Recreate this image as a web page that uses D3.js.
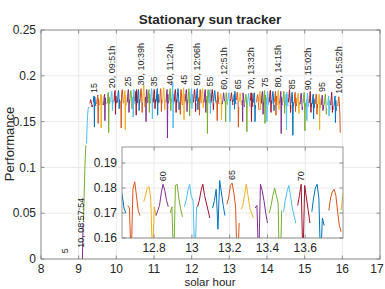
<!DOCTYPE html>
<html>
<head>
<meta charset="utf-8">
<script src="https://cdn.jsdelivr.net/npm/d3@7"></script>
<style>
  body { margin: 0; background: #fff; }
  text { font-family: "Liberation Sans", Arial, sans-serif; fill: #262626; }
</style>
</head>
<body>
<svg id="chart" width="385" height="289"></svg>
<script>
// ---- data ----
var firstSeg = 11;          // number of the first drawn tracking run
var sampleStep = 0.0093;    // hours between samples inside one run

// start hour of runs 11 .. 100
var segStart = [
  9.09, 9.127, 9.21, 9.30, 9.39, 9.48, 9.57, 9.66, 9.76, 9.85,
  9.94, 10.03, 10.12, 10.20, 10.29, 10.36, 10.43, 10.50, 10.56, 10.63,
  10.70, 10.77, 10.84, 10.91, 10.98, 11.06, 11.15, 11.23, 11.32, 11.40,
  11.47, 11.54, 11.61, 11.69, 11.76, 11.83, 11.90, 11.97, 12.05, 12.12,
  12.19, 12.26, 12.33, 12.40, 12.46, 12.52, 12.585, 12.66, 12.745, 12.81,
  12.885, 12.96, 13.03, 13.11, 13.185, 13.26, 13.335, 13.41, 13.485, 13.56,
  13.635, 13.725, 13.79, 13.85, 13.91, 13.98, 14.06, 14.13, 14.20, 14.27,
  14.34, 14.42, 14.49, 14.57, 14.64, 14.72, 14.80, 14.88, 14.96, 15.04,
  15.12, 15.20, 15.28, 15.36, 15.44, 15.52, 15.61, 15.69, 15.78, 15.88
];

// performance samples of runs 11 .. 100
var segPerf = [
  [0, 0, 0.020, 0.039],
  [0.041, 0.055, 0.070, 0.085, 0.098, 0.110, 0.118, 0.124],
  [0.126, 0.140, 0.150, 0.157, 0.162, 0.165, 0.166, 0.165],
  [0.170, 0.172, 0.174, 0.173, 0.171, 0.169, 0.166, 0.168],
  [0.171, 0.176, 0.178, 0.144, 0.177, 0.173, 0.169, 0.167],
  [0.169, 0.174, 0.177, 0.179, 0.148, 0.175, 0.171, 0.168],
  [0.170, 0.176, 0.180, 0.143, 0.179, 0.174, 0.170, 0.168],
  [0.168, 0.173, 0.178, 0.180, 0.151, 0.176, 0.171, 0.169],
  [0.170, 0.175, 0.181, 0.182, 0.138, 0.177, 0.172, 0.169],
  [0.171, 0.177, 0.182, 0.183, 0.179, 0.162, 0.173, 0.170],
  [0.172, 0.178, 0.183, 0.184, 0.158, 0.178, 0.173, 0.170],
  [0.171, 0.177, 0.182, 0.184, 0.180, 0.164, 0.174, 0.171],
  [0.172, 0.143, 0.179, 0.184, 0.185, 0.180, 0.174, 0.170],
  [0.170, 0.176, 0.182, 0.184, 0.141, 0.179, 0.174, 0.168],
  [0.171, 0.177, 0.182, 0.185, 0.181, 0.160, 0.174, 0.170],
  [0.172, 0.178, 0.183, 0.184, 0.180, 0.175, 0.164, 0.171],
  [0.171, 0.177, 0.155, 0.182, 0.185, 0.179, 0.174, 0.169],
  [0.172, 0.178, 0.183, 0.157, 0.185, 0.180, 0.174, 0.170],
  [0.171, 0.177, 0.182, 0.185, 0.180, 0.162, 0.174, 0.170],
  [0.172, 0.178, 0.184, 0.186, 0.181, 0.175, 0.160, 0.171],
  [0.171, 0.178, 0.183, 0.190, 0.182, 0.166, 0.175, 0.171],
  [0.172, 0.177, 0.150, 0.183, 0.185, 0.180, 0.174, 0.170],
  [0.171, 0.178, 0.183, 0.185, 0.160, 0.180, 0.174, 0.170],
  [0.172, 0.178, 0.184, 0.186, 0.181, 0.153, 0.175, 0.171],
  [0.171, 0.177, 0.183, 0.185, 0.180, 0.164, 0.174, 0.170],
  [0.172, 0.178, 0.184, 0.186, 0.157, 0.180, 0.175, 0.170],
  [0.171, 0.178, 0.183, 0.186, 0.181, 0.161, 0.174, 0.170],
  [0.172, 0.178, 0.184, 0.187, 0.182, 0.176, 0.163, 0.171],
  [0.171, 0.177, 0.183, 0.185, 0.132, 0.180, 0.174, 0.170],
  [0.172, 0.178, 0.184, 0.186, 0.181, 0.162, 0.175, 0.171],
  [0.171, 0.178, 0.186, 0.192, 0.143, 0.180, 0.174, 0.170],
  [0.172, 0.178, 0.183, 0.185, 0.180, 0.160, 0.174, 0.170],
  [0.171, 0.177, 0.183, 0.186, 0.181, 0.175, 0.163, 0.171],
  [0.172, 0.158, 0.183, 0.185, 0.181, 0.175, 0.170, 0.168],
  [0.171, 0.178, 0.184, 0.187, 0.152, 0.180, 0.174, 0.170],
  [0.172, 0.178, 0.183, 0.185, 0.181, 0.161, 0.174, 0.170],
  [0.171, 0.177, 0.183, 0.186, 0.180, 0.156, 0.174, 0.170],
  [0.172, 0.178, 0.184, 0.186, 0.164, 0.180, 0.175, 0.171],
  [0.171, 0.178, 0.183, 0.185, 0.180, 0.175, 0.161, 0.170],
  [0.172, 0.178, 0.184, 0.186, 0.181, 0.163, 0.175, 0.171],
  [0.171, 0.177, 0.157, 0.183, 0.185, 0.180, 0.174, 0.170],
  [0.172, 0.178, 0.184, 0.186, 0.180, 0.165, 0.174, 0.170],
  [0.171, 0.177, 0.183, 0.185, 0.181, 0.160, 0.174, 0.171],
  [0.172, 0.178, 0.137, 0.183, 0.185, 0.180, 0.174, 0.170],
  [0.171, 0.177, 0.183, 0.185, 0.159, 0.180, 0.174, 0.170],
  [0.172, 0.178, 0.183, 0.185, 0.180, 0.175, 0.163, 0.170],
  [0.172, 0.177, 0.182, 0.184, 0.180, 0.177, 0.172, 0.170],
  [0.173, 0.172, 0.151, 0.1795, 0.1825, 0.177, 0.171, 0.169],
  [0.1745, 0.177, 0.180, 0.1805, 0.176, 0.152, 0.1725, 0.169],
  [0.169, 0.171, 0.173, 0.178, 0.1815, 0.179, 0.175, 0.1725],
  [0.170, 0.1725, 0.150, 0.181, 0.1815, 0.1755, 0.1715, 0.1685],
  [0.1725, 0.175, 0.179, 0.1815, 0.1765, 0.175, 0.150, 0.1725],
  [0.1725, 0.175, 0.179, 0.1815, 0.177, 0.174, 0.171, 0.168],
  [0.172, 0.175, 0.1795, 0.1635, 0.183, 0.178, 0.173, 0.169],
  [0.1735, 0.176, 0.181, 0.182, 0.178, 0.1725, 0.144, 0.166],
  [0.1715, 0.173, 0.177, 0.1815, 0.177, 0.172, 0.170, 0.168],
  [0.172, 0.173, 0.150, 0.1815, 0.179, 0.175, 0.170, 0.166],
  [0.170, 0.173, 0.177, 0.180, 0.177, 0.174, 0.139, 0.171],
  [0.1705, 0.175, 0.1785, 0.181, 0.177, 0.172, 0.169, 0.166],
  [0.173, 0.177, 0.1815, 0.150, 0.181, 0.176, 0.171, 0.166],
  [0.1705, 0.176, 0.180, 0.1815, 0.176, 0.150, 0.168, 0.165],
  [0.171, 0.176, 0.1785, 0.1795, 0.177, 0.1705, 0.165, 0.1625],
  [0.171, 0.177, 0.181, 0.183, 0.163, 0.178, 0.173, 0.169],
  [0.170, 0.176, 0.181, 0.183, 0.179, 0.158, 0.173, 0.169],
  [0.171, 0.177, 0.182, 0.184, 0.148, 0.179, 0.173, 0.169],
  [0.170, 0.176, 0.150, 0.182, 0.183, 0.178, 0.172, 0.168],
  [0.171, 0.177, 0.182, 0.184, 0.179, 0.160, 0.173, 0.169],
  [0.170, 0.176, 0.181, 0.183, 0.178, 0.172, 0.162, 0.168],
  [0.171, 0.176, 0.181, 0.183, 0.157, 0.178, 0.172, 0.168],
  [0.170, 0.176, 0.181, 0.184, 0.179, 0.163, 0.172, 0.168],
  [0.170, 0.175, 0.180, 0.183, 0.137, 0.177, 0.172, 0.168],
  [0.171, 0.176, 0.181, 0.183, 0.178, 0.159, 0.172, 0.168],
  [0.170, 0.175, 0.180, 0.141, 0.182, 0.177, 0.171, 0.167],
  [0.171, 0.176, 0.181, 0.185, 0.178, 0.172, 0.160, 0.168],
  [0.170, 0.175, 0.180, 0.182, 0.177, 0.135, 0.171, 0.167],
  [0.170, 0.175, 0.180, 0.182, 0.161, 0.176, 0.171, 0.167],
  [0.170, 0.175, 0.179, 0.181, 0.177, 0.159, 0.171, 0.167],
  [0.169, 0.174, 0.179, 0.181, 0.176, 0.171, 0.163, 0.166],
  [0.170, 0.175, 0.180, 0.182, 0.176, 0.140, 0.170, 0.166],
  [0.169, 0.174, 0.151, 0.180, 0.181, 0.176, 0.170, 0.166],
  [0.170, 0.175, 0.179, 0.183, 0.176, 0.160, 0.170, 0.166],
  [0.169, 0.174, 0.178, 0.180, 0.153, 0.175, 0.170, 0.165],
  [0.169, 0.174, 0.178, 0.180, 0.176, 0.158, 0.169, 0.165],
  [0.169, 0.174, 0.178, 0.180, 0.141, 0.175, 0.169, 0.165],
  [0.168, 0.173, 0.177, 0.179, 0.175, 0.162, 0.168, 0.164],
  [0.168, 0.173, 0.177, 0.180, 0.175, 0.169, 0.158, 0.164],
  [0.168, 0.172, 0.176, 0.178, 0.156, 0.173, 0.167, 0.163],
  [0.168, 0.173, 0.177, 0.182, 0.174, 0.160, 0.167, 0.163],
  [0.167, 0.172, 0.176, 0.178, 0.149, 0.173, 0.166, 0.162],
  [0.167, 0.172, 0.175, 0.177, 0.173, 0.165, 0.155, 0.138]
];

// run labels on the main plot
var labelNums = [15, 20, 25, 30, 35, 40, 45, 50, 55, 60, 65, 70, 75, 80, 85, 90, 95, 100];
var labelTexts = ["15", "20, 09:51h", "25", "30, 10:39h", "35", "40, 11:24h", "45", "50, 12:06h",
  "55", "60, 12:51h", "65", "70, 13:32h", "75", "80, 14:15h", "85", "90, 15:02h", "95", "100, 15:52h"];
// runs 5 and 10 sit at zero before the sun reaches the tracker
var earlyTexts = ["5", "10, 08:57:54"];
var earlyHour = [8.64, 9.05];
var earlyPerf = [0.003, 0.009];
var insetLabelNums = [60, 65, 70];

var xTicks = [8, 9, 10, 11, 12, 13, 14, 15, 16, 17];
var yTicks = [0, 0.05, 0.1, 0.15, 0.2, 0.25];
var insetXTicks = [12.8, 13, 13.2, 13.4, 13.6];
var insetYTicks = [0.16, 0.17, 0.18, 0.19];

var colors = ["#0072BD", "#D95319", "#EDB120", "#7E2F8E", "#77AC30", "#4DBEEE", "#A2142F"];

// ---- drawing ----
var W = 385;
var svg = d3.select("#chart");

var runs = segPerf.map(function(vals, i) {
  return {
    n: firstSeg + i,
    pts: vals.map(function(v, k) { return [segStart[i] + k * sampleStep, v]; })
  };
});

function runColor(n) { return colors[(n - 1) % colors.length]; }

function peakOf(n) {
  var r = runs[n - firstSeg];
  return r.pts[d3.maxIndex(r.pts, function(p) { return p[1]; })];
}

function drawGrid(g, x, y, xt, yt) {
  var x0 = x.range()[0], x1 = x.range()[1], y0 = y.range()[0], y1 = y.range()[1];
  g.append("rect").attr("x", x0).attr("y", y1).attr("width", x1 - x0).attr("height", y0 - y1)
    .attr("fill", "#fff");
  g.selectAll(".gx").data(xt).enter().append("line")
    .attr("x1", function(d) { return x(d); }).attr("x2", function(d) { return x(d); })
    .attr("y1", y0).attr("y2", y1).attr("stroke", "#e3e3e3").attr("stroke-width", 0.8);
  g.selectAll(".gy").data(yt).enter().append("line")
    .attr("x1", x0).attr("x2", x1)
    .attr("y1", function(d) { return y(d); }).attr("y2", function(d) { return y(d); })
    .attr("stroke", "#e3e3e3").attr("stroke-width", 0.8);
}

function drawFrame(g, x, y, xt, yt, xfmt, yfmt, fontSize) {
  var x0 = x.range()[0], x1 = x.range()[1], y0 = y.range()[0], y1 = y.range()[1];
  var tick = 3.5, axisColor = "#7a7a7a";
  xt.forEach(function(d) {
    g.append("line").attr("x1", x(d)).attr("x2", x(d)).attr("y1", y0).attr("y2", y0 - tick)
      .attr("stroke", axisColor).attr("stroke-width", 0.8);
    g.append("line").attr("x1", x(d)).attr("x2", x(d)).attr("y1", y1).attr("y2", y1 + tick)
      .attr("stroke", axisColor).attr("stroke-width", 0.8);
    // keep the last label inside the page
    g.append("text").attr("x", Math.min(x(d), W - 8)).attr("y", y0 + 14).attr("text-anchor", "middle")
      .attr("font-size", fontSize).text(xfmt(d));
  });
  yt.forEach(function(d) {
    g.append("line").attr("x1", x0).attr("x2", x0 + tick).attr("y1", y(d)).attr("y2", y(d))
      .attr("stroke", axisColor).attr("stroke-width", 0.8);
    g.append("line").attr("x1", x1).attr("x2", x1 - tick).attr("y1", y(d)).attr("y2", y(d))
      .attr("stroke", axisColor).attr("stroke-width", 0.8);
    g.append("text").attr("x", x0 - 5).attr("y", y(d)).attr("dy", "0.35em").attr("text-anchor", "end")
      .attr("font-size", fontSize).text(yfmt(d));
  });
  g.append("rect").attr("x", x0).attr("y", y1).attr("width", x1 - x0).attr("height", y0 - y1)
    .attr("fill", "none").attr("stroke", axisColor).attr("stroke-width", 0.8);
}

function drawRuns(g, x, y, clipId) {
  var line = d3.line().x(function(p) { return x(p[0]); }).y(function(p) { return y(p[1]); });
  g.append("g").attr("clip-path", "url(#" + clipId + ")")
    .selectAll("path").data(runs).enter().append("path")
    .attr("d", function(r) { return line(r.pts); })
    .attr("fill", "none").attr("stroke", function(r) { return runColor(r.n); })
    .attr("stroke-width", 1).attr("stroke-linejoin", "round");
}

function runLabel(g, px, py, txt) {
  g.append("text")
    .attr("transform", "translate(" + px + "," + py + ") rotate(-90)")
    .attr("dy", "0.35em").attr("font-size", 9).text(txt);
}

function addClip(id, x, y) {
  svg.append("clipPath").attr("id", id).append("rect")
    .attr("x", x.range()[0]).attr("y", y.range()[1])
    .attr("width", x.range()[1] - x.range()[0]).attr("height", y.range()[0] - y.range()[1]);
}

// main axes
var x = d3.scaleLinear().domain([8, 17]).range([41, 380]);
var y = d3.scaleLinear().domain([0, 0.25]).range([259, 30]);
addClip("clipMain", x, y);

var gMain = svg.append("g");
drawGrid(gMain, x, y, xTicks, yTicks);
drawRuns(gMain, x, y, "clipMain");

labelNums.forEach(function(n, i) {
  var p = peakOf(n);
  runLabel(gMain, x(p[0]), y(p[1]) - 3, labelTexts[i]);
});
earlyTexts.forEach(function(t, i) {
  runLabel(gMain, x(earlyHour[i]), y(earlyPerf[i]) - 3, t);
});
drawFrame(gMain, x, y, xTicks, yTicks, d3.format("d"), function(d) { return d === 0 ? "0" : String(d); }, 12);

svg.append("text").attr("x", 210).attr("y", 24).attr("text-anchor", "middle")
  .attr("font-size", 13.5).attr("font-weight", "bold").attr("fill", "#000").text("Stationary sun tracker");
svg.append("text").attr("x", 210).attr("y", 286.3).attr("text-anchor", "middle")
  .attr("font-size", 11.5).text("solar hour");
svg.append("text").attr("transform", "translate(13.5,144) rotate(-90)").attr("text-anchor", "middle")
  .attr("font-size", 13).text("Performance");

// inset zoom on the midday runs
var xi = d3.scaleLinear().domain([12.63, 13.8]).range([122, 343]);
var yi = d3.scaleLinear().domain([0.16, 0.1964]).range([238, 147]);
addClip("clipInset", xi, yi);

var gIn = svg.append("g");
drawGrid(gIn, xi, yi, insetXTicks, insetYTicks);
drawRuns(gIn, xi, yi, "clipInset");
insetLabelNums.forEach(function(n) {
  var p = peakOf(n);
  runLabel(gIn, xi(p[0]), yi(p[1]) - 3, String(n));
});
drawFrame(gIn, xi, yi, insetXTicks, insetYTicks, function(d) { return String(d); },
  function(d) { return d.toFixed(2); }, 12);
</script>
</body>
</html>
